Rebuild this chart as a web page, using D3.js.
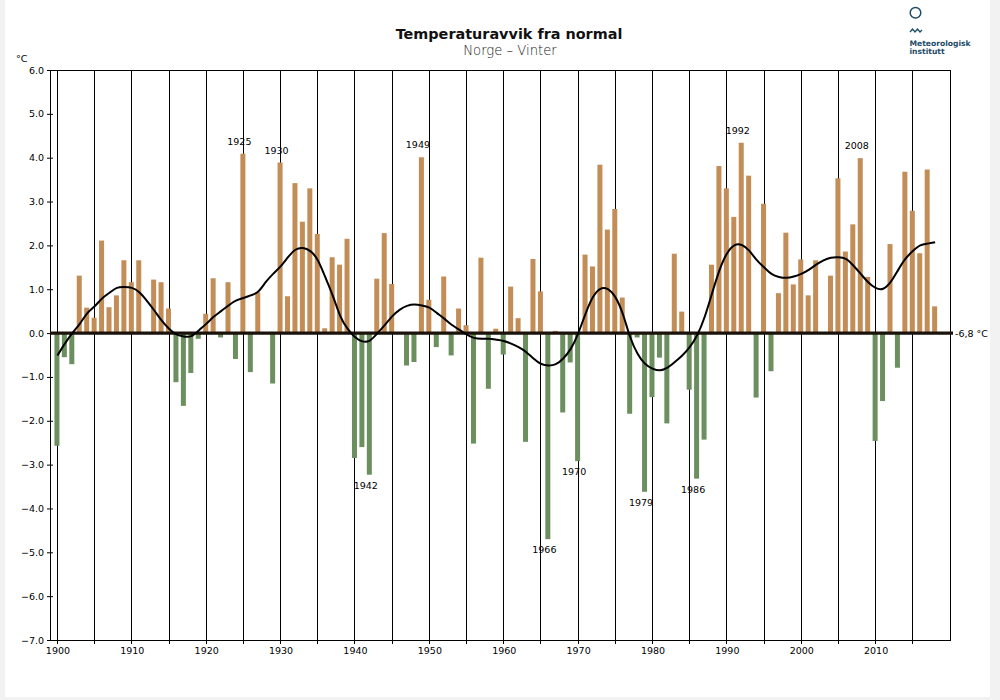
<!DOCTYPE html>
<html>
<head>
<meta charset="utf-8">
<script src="https://cdn.jsdelivr.net/npm/d3@7"></script>
<style>
html,body{margin:0;padding:0;background:#f2f2f2;}
svg{display:block;}
text{font-family:"DejaVu Sans",sans-serif;}
</style>
</head>
<body>
<svg id="chart" width="1000" height="700"></svg>
<script>
// ---- data ----
const firstYear = 1900;
const anomalies = [
  -2.57, -0.55, -0.71, 1.31, 0.58, 0.35, 2.11, 0.59, 0.86, 1.66,
  1.16, 1.66, 0, 1.22, 1.16, 0.56, -1.12, -1.66, -0.91, -0.13,
  0.44, 1.25, -0.10, 1.16, -0.59, 4.09, -0.89, 0.93, 0, -1.15,
  3.89, 0.84, 3.42, 2.54, 3.30, 2.26, 0.11, 1.73, 1.56, 2.15,
  -2.85, -2.60, -3.23, 1.24, 2.28, 1.12, 0, -0.74, -0.66, 4.01,
  0.76, -0.32, 1.29, -0.51, 0.56, 0.18, -2.52, 1.72, -1.27, 0.10,
  -0.49, 1.06, 0.34, -2.48, 1.69, 0.95, -4.70, 0.05, -1.81, -0.67,
  -2.92, 1.79, 1.52, 3.84, 2.36, 2.83, 0.81, -1.84, -0.10, -3.62,
  -1.46, -0.56, -2.06, 1.81, 0.49, -1.29, -3.32, -2.43, 1.56, 3.81,
  3.30, 2.65, 4.34, 3.59, -1.47, 2.95, -0.87, 0.91, 2.29, 1.11,
  1.68, 0.86, 1.66, 0, 1.31, 3.53, 1.86, 2.48, 3.99, 1.28,
  -2.46, -1.55, 2.03, -0.79, 3.68, 2.79, 1.82, 3.73, 0.61
];
const smoothed = [
  -0.51, -0.24, 0.00, 0.21, 0.45, 0.61, 0.79, 0.92, 1.03, 1.05,
  1.03, 0.93, 0.74, 0.52, 0.29, 0.10, -0.03, -0.08, -0.07, 0.06,
  0.21, 0.37, 0.50, 0.63, 0.74, 0.80, 0.86, 0.95, 1.16, 1.35,
  1.52, 1.73, 1.90, 1.94, 1.87, 1.66, 1.28, 0.86, 0.40, 0.10,
  -0.09, -0.19, -0.17, -0.01, 0.18, 0.38, 0.53, 0.62, 0.65, 0.63,
  0.58, 0.46, 0.33, 0.19, 0.08, -0.03, -0.11, -0.13, -0.13, -0.15,
  -0.18, -0.24, -0.32, -0.43, -0.58, -0.70, -0.74, -0.71, -0.58, -0.36,
  -0.01, 0.44, 0.82, 1.01, 1.00, 0.82, 0.44, -0.09, -0.47, -0.70,
  -0.81, -0.85, -0.79, -0.66, -0.51, -0.32, -0.05, 0.36, 0.90, 1.43,
  1.81, 2.00, 2.01, 1.88, 1.67, 1.50, 1.35, 1.28, 1.26, 1.29,
  1.35, 1.44, 1.56, 1.66, 1.72, 1.73, 1.69, 1.54, 1.35, 1.16,
  1.03, 1.01, 1.16, 1.43, 1.69, 1.87, 2.00, 2.04, 2.07
];
const yTicks = [6, 5, 4, 3, 2, 1, 0, -1, -2, -3, -4, -5, -6, -7];
const xTickLabels = [1900, 1910, 1920, 1930, 1940, 1950, 1960, 1970, 1980, 1990, 2000, 2010];
const gridYears = [1900, 1905, 1910, 1915, 1920, 1925, 1930, 1935, 1940, 1945, 1950, 1955,
                   1960, 1965, 1970, 1975, 1980, 1985, 1990, 1995, 2000, 2005, 2010, 2015];
const highlightYears = [1925, 1930, 1942, 1949, 1966, 1970, 1979, 1986, 1992, 2008];
const title = "Temperaturavvik fra normal";
const subtitle = "Norge \u2013 Vinter";
const normalLabel = "-6,8 \u00B0C";

// ---- layout ----
const svg = d3.select("#chart");
const L = 50, R = 950, T = 70, B = 640;
const x = d3.scaleLinear().domain([1899, 2020]).range([L, R]);
const y = d3.scaleLinear().domain([-7, 6]).range([B, T]);
const data = anomalies.map((v, i) => ({year: firstYear + i, v, s: smoothed[i]}));
const orange = "#c38d57", green = "#6b8f5e";
const barW = 5;

svg.append("rect").attr("x", 5).attr("y", 0).attr("width", 985).attr("height", 697).attr("fill", "#fff");

// title
svg.append("text").attr("x", 509).attr("y", 39).attr("text-anchor", "middle")
  .attr("font-size", 14.4).attr("font-weight", "bold").attr("fill", "#111").text(title);
svg.append("text").attr("x", 510).attr("y", 54.5).attr("text-anchor", "middle")
  .attr("font-size", 13.2).attr("font-weight", 300).attr("fill", "#1a1a1a").text(subtitle);

// logo
const logo = svg.append("g").attr("fill", "none").attr("stroke", "#1c4c68");
logo.append("circle").attr("cx", 915.5).attr("cy", 12.7).attr("r", 5.3).attr("stroke-width", 1.5);
logo.append("path").attr("d", "M910,32 L912.5,29 L915,32 L917.5,29 L920,32 L922,30").attr("stroke-width", 1.3);
svg.append("text").attr("x", 909.5).attr("y", 46).attr("font-family", "Liberation Sans, Arial, sans-serif")
  .attr("font-size", 7.6).attr("font-weight", "bold").attr("fill", "#1c4c68").text("Meteorologisk");
svg.append("text").attr("x", 909.5).attr("y", 54).attr("font-family", "Liberation Sans, Arial, sans-serif")
  .attr("font-size", 7.6).attr("font-weight", "bold").attr("fill", "#1c4c68").text("institutt");

// unit label
svg.append("text").attr("x", 16).attr("y", 62).attr("font-size", 9.5).attr("fill", "#000").text("\u00B0C");

// vertical grid lines (extend below axis as ticks)
svg.append("g").selectAll("line").data(gridYears).join("line")
  .attr("x1", d => x(d)).attr("x2", d => x(d))
  .attr("y1", T).attr("y2", B + 4)
  .attr("stroke", "#000").attr("stroke-width", 1).attr("shape-rendering", "crispEdges");

// bars
svg.append("g").selectAll("rect").data(data.filter(d => d.v !== 0)).join("rect")
  .attr("x", d => x(d.year) - barW / 2 - 0.5)
  .attr("width", barW)
  .attr("y", d => y(Math.max(0, d.v)))
  .attr("height", d => Math.abs(y(d.v) - y(0)))
  .attr("fill", d => d.v >= 0 ? orange : green);

// frame
svg.append("rect").attr("x", L).attr("y", T).attr("width", R - L).attr("height", B - T)
  .attr("fill", "none").attr("stroke", "#000").attr("stroke-width", 1).attr("shape-rendering", "crispEdges");

// y axis
const yAxis = d3.axisLeft(y).tickValues(yTicks).tickSize(3).tickFormat(d3.format(".1f"));
const ya = svg.append("g").attr("transform", `translate(${L},0)`).call(yAxis);
ya.select(".domain").remove();
ya.selectAll(".tick line").attr("x2", 3).attr("x1", -3).attr("stroke", "#000");
ya.selectAll(".tick text").attr("x", -6).attr("font-size", 9.5).attr("font-family", "DejaVu Sans, sans-serif").attr("fill", "#000");

// x axis labels
const xAxis = d3.axisBottom(x).tickValues(xTickLabels).tickSize(0).tickFormat(d3.format("d"));
const xa = svg.append("g").attr("transform", `translate(0,${B})`).call(xAxis);
xa.select(".domain").remove();
xa.selectAll(".tick text").attr("y", 7).attr("font-size", 9.5).attr("font-family", "DejaVu Sans, sans-serif").attr("fill", "#000");

// zero (normal) line
svg.append("line").attr("x1", L).attr("x2", R + 3).attr("y1", y(0)).attr("y2", y(0))
  .attr("stroke", "#1a120a").attr("stroke-width", 3.2);
svg.append("text").attr("x", 955).attr("y", y(0) + 3.5).attr("font-size", 9.5).attr("fill", "#000").text(normalLabel);

// smoothed curve
const line = d3.line().x(d => x(d.year)).y(d => y(d.s)).curve(d3.curveNatural);
svg.append("path").datum(data).attr("d", line)
  .attr("fill", "none").attr("stroke", "#000").attr("stroke-width", 2);

// highlighted year labels
svg.append("g").selectAll("text").data(data.filter(d => highlightYears.includes(d.year))).join("text")
  .attr("x", d => x(d.year) - 4)
  .attr("y", d => d.v >= 0 ? y(d.v) - 9 : y(d.v) + 14)
  .attr("text-anchor", "middle").attr("font-size", 9.5).attr("fill", "#000")
  .text(d => d.year);
</script>
</body>
</html>
